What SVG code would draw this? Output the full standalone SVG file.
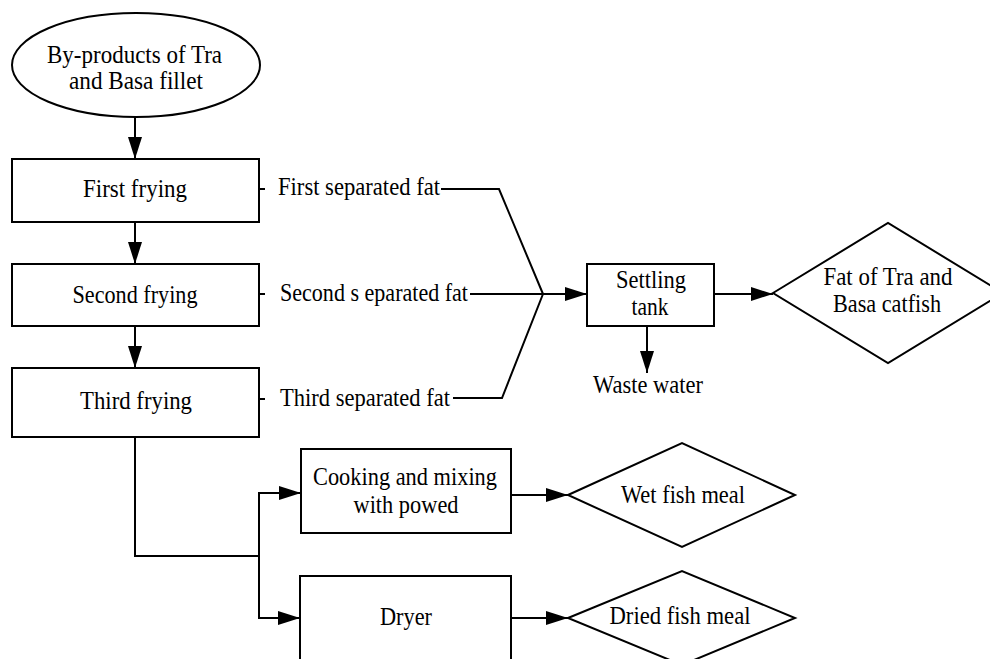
<svg xmlns="http://www.w3.org/2000/svg" width="990" height="659" viewBox="0 0 990 659">
<style>
.s{fill:#fff;stroke:#000;stroke-width:2}
.c{fill:none;stroke:#000;stroke-width:2}
text{font-family:"Liberation Serif","Times New Roman",serif;font-size:24.5px;fill:#000}
.m{text-anchor:middle}
</style>
<defs>
<marker id="ah" markerUnits="userSpaceOnUse" markerWidth="22" markerHeight="14" refX="22" refY="7" orient="auto">
<path d="M0,0 L22,7 L0,14 z" fill="#000"/>
</marker>
</defs>
<rect width="990" height="659" fill="#fff"/>
<g id="connectors">
<line class="c" x1="135" y1="116" x2="135" y2="159" marker-end="url(#ah)"/>
<line class="c" x1="135" y1="222" x2="135" y2="264" marker-end="url(#ah)"/>
<line class="c" x1="135" y1="326" x2="135" y2="368" marker-end="url(#ah)"/>
<line class="c" x1="259" y1="189" x2="265" y2="189"/>
<line class="c" x1="259" y1="294" x2="265" y2="294"/>
<line class="c" x1="259" y1="399" x2="265" y2="399"/>
<polyline class="c" points="441,189 499,189 543,294"/>
<polyline class="c" points="453,398 502,398 543,294"/>
<line class="c" x1="470" y1="294" x2="587" y2="294" marker-end="url(#ah)"/>
<line class="c" x1="714" y1="294" x2="773" y2="294" marker-end="url(#ah)"/>
<line class="c" x1="647" y1="326" x2="647" y2="373" marker-end="url(#ah)"/>
<polyline class="c" points="135,437 135,556 259,556"/>
<polyline class="c" points="301,493 259,493 259,618 300,618" marker-end="url(#ah)"/>
<line class="c" x1="259" y1="493" x2="301" y2="493" marker-end="url(#ah)"/>
<line class="c" x1="511" y1="495" x2="568" y2="495" marker-end="url(#ah)"/>
<line class="c" x1="511" y1="618" x2="568" y2="618" marker-end="url(#ah)"/>
</g>
<g id="byproducts">
<ellipse class="s" cx="136" cy="65" rx="124" ry="52"/>
<text class="m" x="134.5" y="63" textLength="175" lengthAdjust="spacingAndGlyphs">By-products of Tra</text>
<text class="m" x="136" y="89" textLength="134" lengthAdjust="spacingAndGlyphs">and Basa fillet</text>
</g>
<g id="first-frying">
<rect class="s" x="12" y="159" width="247" height="63"/>
<text class="m" x="135" y="197" textLength="104" lengthAdjust="spacingAndGlyphs">First frying</text>
</g>
<g id="second-frying">
<rect class="s" x="12" y="264" width="247" height="62"/>
<text class="m" x="135" y="303" textLength="125" lengthAdjust="spacingAndGlyphs">Second frying</text>
</g>
<g id="third-frying">
<rect class="s" x="12" y="368" width="247" height="69"/>
<text class="m" x="136" y="409" textLength="112" lengthAdjust="spacingAndGlyphs">Third frying</text>
</g>
<g id="first-fat"><text x="278" y="195" textLength="162" lengthAdjust="spacingAndGlyphs">First separated fat</text></g>
<g id="second-fat"><text x="280" y="301" textLength="188" lengthAdjust="spacingAndGlyphs">Second s eparated  fat</text></g>
<g id="third-fat"><text x="280" y="406" textLength="170" lengthAdjust="spacingAndGlyphs">Third separated fat</text></g>
<g id="settling-tank">
<rect class="s" x="587" y="264" width="127" height="62"/>
<text class="m" x="651" y="288" textLength="70" lengthAdjust="spacingAndGlyphs">Settling</text>
<text class="m" x="650" y="315" textLength="37" lengthAdjust="spacingAndGlyphs">tank</text>
</g>
<g id="waste-water"><text class="m" x="648" y="393" textLength="110" lengthAdjust="spacingAndGlyphs">Waste water</text></g>
<g id="fat-product">
<polygon class="s" points="773,293 888,223 1003,293 888,363"/>
<text class="m" x="888" y="285" textLength="129" lengthAdjust="spacingAndGlyphs">Fat of Tra and</text>
<text class="m" x="887" y="312" textLength="108" lengthAdjust="spacingAndGlyphs">Basa catfish</text>
</g>
<g id="cooking">
<rect class="s" x="301" y="449" width="210" height="84"/>
<text class="m" x="405" y="485" textLength="184" lengthAdjust="spacingAndGlyphs">Cooking and mixing</text>
<text class="m" x="406" y="513" textLength="105" lengthAdjust="spacingAndGlyphs">with powed</text>
</g>
<g id="dryer">
<rect class="s" x="300" y="576" width="211" height="100"/>
<text class="m" x="406" y="625" textLength="52" lengthAdjust="spacingAndGlyphs">Dryer</text>
</g>
<g id="wet-fish-meal">
<polygon class="s" points="568,495 682,443 795,495 682,547"/>
<text class="m" x="683" y="503" textLength="124" lengthAdjust="spacingAndGlyphs">Wet fish meal</text>
</g>
<g id="dried-fish-meal">
<polygon class="s" points="568,618 682,571 795,618 682,665"/>
<text class="m" x="680" y="624" textLength="141" lengthAdjust="spacingAndGlyphs">Dried fish meal</text>
</g>
</svg>
